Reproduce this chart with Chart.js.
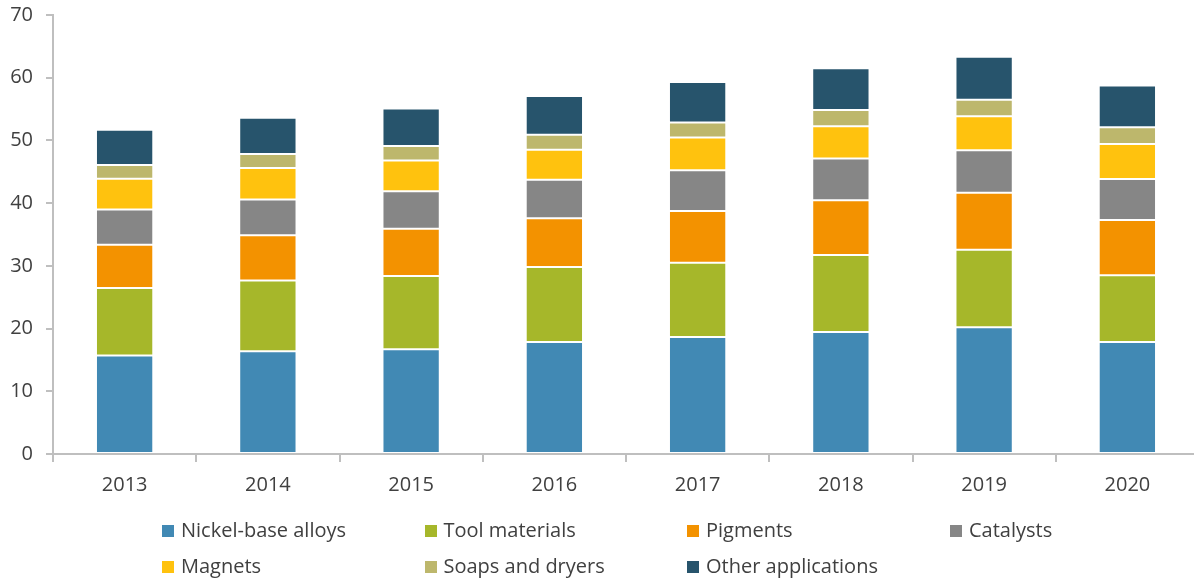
<!DOCTYPE html>
<html>
<head>
<meta charset="utf-8">
<script src="https://cdn.jsdelivr.net/npm/chart.js@4/dist/chart.umd.min.js"></script>
<style>
  html, body { margin: 0; padding: 0; background: #fff; overflow: hidden; }
  #wrap { position: relative; width: 1200px; height: 583px; }
  #legend { position: absolute; left: 0; top: 0; width: 1200px; height: 583px; pointer-events: none; }
  .item { position: absolute; font-family: "Open Sans", sans-serif; font-size: 20px; color: #404040; white-space: nowrap; line-height: 24px; }
  .box { position: absolute; width: 12px; height: 12px; left: 0; top: 6px; }
  .txt { position: absolute; left: 19px; top: -1px; }
</style>
</head>
<body>
<div id="wrap">
  <canvas id="c" width="1200" height="583"></canvas>
  <div id="legend"></div>
</div>
<script>
const categories = ['2013', '2014', '2015', '2016', '2017', '2018', '2019', '2020'];
const seriesNames = ['Nickel-base alloys', 'Tool materials', 'Pigments', 'Catalysts', 'Magnets', 'Soaps and dryers', 'Other applications'];
const seriesColors = ['#4189B4', '#A6B72A', '#F39200', '#868686', '#FFC20E', '#BDB76C', '#27546C'];
const nickel    = [15.7, 16.4, 16.7, 17.85, 18.65, 19.45, 20.2, 17.85];
const tool      = [10.75, 11.25, 11.7, 11.95, 11.85, 12.3, 12.35, 10.65];
const pigments  = [6.9, 7.25, 7.5, 7.8, 8.25, 8.7, 9.1, 8.8];
const catalysts = [5.65, 5.7, 6.0, 6.15, 6.5, 6.65, 6.8, 6.55];
const magnets   = [4.9, 5.0, 4.9, 4.75, 5.2, 5.15, 5.4, 5.6];
const soaps     = [2.2, 2.25, 2.3, 2.4, 2.4, 2.6, 2.65, 2.65];
const other     = [5.6, 5.75, 6.0, 6.2, 6.45, 6.65, 6.85, 6.65];
const yTicks    = [0, 10, 20, 30, 40, 50, 60, 70];

const seriesValues = [nickel, tool, pigments, catalysts, magnets, soaps, other];

const datasets = seriesNames.map((name, i) => ({
  label: name,
  data: seriesValues[i],
  backgroundColor: seriesColors[i],
  borderColor: 'rgba(255,255,255,0.3)',
  borderWidth: 1,
  borderSkipped: false,
  barPercentage: 0.4,
  categoryPercentage: 1.0
}));

const axisColor = '#BFBFBF';
const textColor = '#404040';
const font = { family: '"Open Sans", sans-serif', size: 20 };

new Chart(document.getElementById('c'), {
  type: 'bar',
  data: { labels: categories, datasets },
  options: {
    responsive: false,
    devicePixelRatio: 1,
    animation: false,
    layout: { padding: { top: 15, right: 1, left: 0, bottom: 0 } },
    plugins: { legend: { display: false }, tooltip: { enabled: false } },
    scales: {
      x: {
        stacked: true,
        grid: { drawOnChartArea: false, drawTicks: true, tickLength: 8, color: axisColor, lineWidth: 2, offset: true },
        border: { color: axisColor, width: 2 },
        ticks: { color: textColor, font, padding: 11, maxRotation: 0 },
        afterFit: (s) => { s.height = 129; s.paddingLeft = 0; s.paddingRight = 0; }
      },
      y: {
        stacked: true,
        min: 0, max: 70,
        afterBuildTicks: (s) => { s.ticks = yTicks.map(v => ({ value: v })); },
        grid: { drawOnChartArea: false, drawTicks: true, tickLength: 7, color: axisColor, lineWidth: 2 },
        border: { color: axisColor, width: 2 },
        ticks: { color: textColor, font, padding: 13 },
        afterFit: (s) => { s.width = 53; s.paddingTop = 0; s.paddingBottom = 0; }
      }
    }
  }
});

// Legend (grid layout as in the reference), built from the series arrays
const legendCols = [162, 424.5, 687, 950];
const legendRows = [519, 555];
const leg = document.getElementById('legend');
seriesNames.forEach((name, i) => {
  const row = i < 4 ? 0 : 1;
  const col = i < 4 ? i : i - 4;
  const it = document.createElement('div');
  it.className = 'item';
  it.style.left = legendCols[col] + 'px';
  it.style.top = legendRows[row] + 'px';
  const b = document.createElement('span');
  b.className = 'box';
  b.style.background = seriesColors[i];
  const t = document.createElement('span');
  t.className = 'txt';
  t.textContent = name;
  it.appendChild(b); it.appendChild(t);
  leg.appendChild(it);
});
</script>
</body>
</html>
